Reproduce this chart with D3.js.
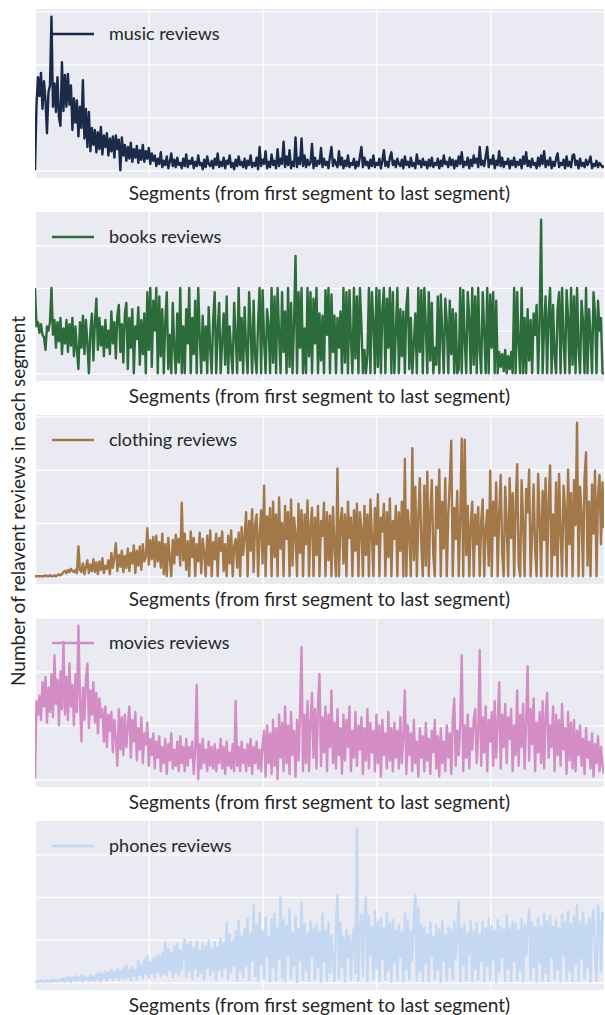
<!DOCTYPE html>
<html>
<head>
<meta charset="utf-8">
<script src="https://cdn.jsdelivr.net/npm/d3@7"></script>
<style>
  body { margin: 0; background: #ffffff; }
  svg text { font-family: Lato, "Open Sans", sans-serif; fill: #262626; }
</style>
</head>
<body>
<svg id="chart" width="605" height="1015"></svg>
<script>
// Review categories, one panel each (top to bottom)
const categories = ["music", "books", "clothing", "movies", "phones"];

// Number of relevant reviews per segment, first segment to last segment
const musicReviews = [
  0, 62, 88, 70, 92, 58, 84, 66, 35, 74, 80, 145, 60, 82, 55, 88, 50, 42, 102, 56,
  90, 60, 91, 62, 80, 38, 68, 45, 66, 32, 60, 40, 85, 30, 58, 22, 55, 18, 40, 24,
  38, 17, 36, 20, 41, 15, 33, 22, 35, 14, 30, 18, 32, 12, 33, 20, 29, 0, 31, 14,
  24, 9, 22, 11, 26, 8, 20, 12, 23, 7, 19, 10, 24, 8, 18, 11, 21, 6, 16, 9,
  14, 4, 11, 6, 17, 3, 9, 5, 13, 2, 8, 16, 4, 10, 3, 12, 5, 7, 2, 11,
  4, 15, 3, 9, 6, 12, 2, 8, 4, 14, 5, 7, 1, 10, 3, 13, 6, 4, 9, 2,
  11, 5, 16, 3, 8, 4, 12, 2, 9, 6, 14, 3, 7, 1, 10, 4, 13, 5, 8, 3,
  11, 2, 9, 5, 14, 3, 7, 4, 12, 1, 22, 4, 10, 6, 18, 2, 8, 3, 15, 5,
  9, 2, 20, 4, 11, 6, 27, 3, 13, 5, 19, 2, 8, 4, 31, 3, 12, 6, 30, 4,
  14, 3, 10, 5, 7, 25, 2, 12, 4, 9, 6, 21, 3, 11, 5, 8, 2, 13, 22, 4,
  10, 6, 3, 18, 5, 12, 2, 9, 4, 14, 3, 7, 5, 11, 2, 8, 4, 13, 22, 3,
  12, 5, 8, 2, 10, 4, 14, 3, 7, 5, 11, 2, 9, 19, 4, 8, 3, 12, 17, 5,
  9, 3, 11, 6, 4, 10, 2, 13, 5, 8, 3, 12, 4, 7, 2, 15, 6, 9, 3, 11,
  5, 8, 2, 10, 4, 12, 3, 7, 5, 11, 2, 9, 4, 14, 6, 8, 3, 12, 5, 10,
  2, 9, 4, 13, 6, 17, 3, 8, 5, 12, 2, 10, 4, 14, 7, 11, 3, 22, 5, 9,
  4, 13, 22, 3, 10, 6, 14, 2, 9, 5, 18, 4, 12, 3, 8, 6, 11, 2, 9, 5,
  12, 3, 8, 5, 10, 2, 13, 6, 17, 4, 9, 3, 11, 5, 7, 2, 12, 4, 14, 6,
  18, 3, 9, 5, 12, 2, 8, 4, 11, 16, 3, 7, 5, 10, 2, 13, 4, 8, 3, 14,
  15, 5, 9, 2, 11, 4, 7, 3, 10, 5, 8, 13, 2, 6, 4, 9, 3, 7, 5, 3,
  4
];
const booksReviews = [
  40, 22, 24, 19, 23, 18, 17, 11, 22, 20, 24, 40, 18, 25, 12, 24, 15, 26, 9, 21,
  14, 25, 10, 23, 13, 26, 8, 22, 11, 2, 24, 12, 27, 9, 25, 14, 0, 20, 28, 6,
  24, 35, 11, 26, 13, 22, 8, 25, 12, 20, 9, 29, 14, 24, 7, 27, 32, 10, 23, 5,
  28, 33, 2, 26, 12, 30, 0, 22, 16, 31, 4, 25, 9, 28, 0, 38, 11, 40, 3, 34,
  20, 40, 0, 36, 8, 30, 0, 24, 38, 2, 18, 0, 33, 12, 0, 28, 5, 40, 0, 22,
  0, 30, 14, 40, 0, 26, 9, 34, 0, 40, 18, 0, 27, 6, 22, 0, 31, 12, 0, 25,
  38, 0, 20, 33, 0, 15, 28, 4, 36, 0, 22, 10, 0, 33, 18, 0, 40, 6, 26, 0,
  31, 12, 0, 38, 20, 0, 34, 8, 0, 24, 40, 0, 39, 15, 0, 30, 22, 0, 40, 5,
  36, 0, 40, 18, 0, 38, 10, 29, 0, 40, 3, 33, 0, 24, 55, 0, 38, 12, 40, 0,
  21, 0, 40, 8, 38, 0, 35, 14, 40, 0, 28, 6, 27, 0, 39, 18, 40, 0, 37, 10,
  27, 0, 26, 12, 29, 0, 40, 5, 38, 0, 39, 16, 0, 40, 7, 36, 0, 40, 22, 0,
  11, 0, 8, 40, 0, 38, 24, 0, 40, 3, 39, 0, 30, 40, 0, 35, 12, 40, 0, 38,
  0, 20, 40, 0, 30, 8, 29, 0, 31, 40, 2, 26, 0, 14, 28, 0, 40, 10, 39, 0,
  40, 22, 0, 38, 6, 33, 0, 12, 4, 36, 0, 37, 18, 0, 35, 24, 0, 34, 9, 30,
  0, 28, 0, 2, 40, 0, 39, 15, 0, 38, 26, 0, 40, 4, 36, 0, 40, 11, 0, 38,
  20, 0, 40, 0, 37, 12, 38, 0, 34, 0, 10, 3, 9, 1, 11, 0, 8, 2, 10, 0,
  40, 0, 38, 14, 0, 40, 0, 26, 0, 30, 6, 25, 0, 28, 18, 32, 0, 24, 72, 0,
  22, 36, 0, 28, 40, 0, 32, 8, 0, 30, 38, 0, 40, 16, 0, 39, 26, 0, 40, 4,
  36, 0, 40, 12, 0, 34, 24, 0, 40, 0, 30, 18, 0, 38, 28, 0, 34, 20, 26, 0,
  0
];
const clothingReviews = [
  0, 0, 0, 0, 0, 0, 0, 1, 0, 0, 1, 0, 0, 1, 0, 1, 2, 1, 2, 4,
  5, 3, 6, 4, 7, 5, 4, 6, 3, 28, 6, 4, 12, 2, 9, 15, 3, 11, 5, 16,
  4, 13, 2, 14, 6, 17, 3, 10, 7, 15, 2, 22, 8, 18, 31, 5, 20, 9, 24, 4,
  19, 8, 26, 5, 22, 12, 29, 3, 24, 10, 28, 6, 30, 14, 18, 45, 11, 34, 16, 37,
  9, 38, 14, 32, 8, 40, 2, 30, 0, 36, 17, 0, 34, 12, 39, 20, 35, 10, 69, 15,
  40, 6, 33, 0, 42, 18, 36, 0, 30, 14, 41, 3, 35, 22, 0, 38, 10, 43, 0, 32,
  16, 40, 0, 36, 24, 42, 5, 30, 0, 38, 12, 43, 0, 28, 35, 8, 41, 0, 46, 20,
  38, 60, 0, 52, 24, 63, 4, 48, 58, 0, 40, 62, 12, 85, 0, 56, 30, 64, 0, 70,
  18, 58, 0, 74, 26, 50, 0, 66, 35, 60, 0, 72, 10, 55, 40, 0, 68, 22, 62, 0,
  58, 30, 71, 0, 48, 64, 0, 55, 20, 66, 0, 52, 38, 69, 0, 60, 15, 57, 0, 65,
  28, 0, 101, 0, 50, 64, 12, 58, 0, 70, 36, 55, 0, 62, 24, 68, 0, 60, 45, 0,
  66, 20, 58, 0, 72, 38, 0, 64, 30, 77, 0, 55, 42, 68, 0, 60, 18, 73, 0, 52,
  35, 66, 0, 60, 24, 70, 0, 110, 0, 62, 40, 0, 120, 15, 84, 0, 55, 92, 30, 0,
  85, 10, 98, 0, 60, 90, 20, 0, 84, 45, 100, 0, 70, 26, 92, 0, 58, 88, 127, 0,
  64, 35, 80, 0, 55, 129, 0, 128, 20, 66, 0, 48, 70, 0, 58, 30, 65, 0, 52, 72,
  0, 44, 62, 10, 99, 0, 70, 38, 88, 0, 60, 95, 22, 0, 84, 50, 0, 92, 36, 78,
  0, 66, 105, 12, 0, 90, 48, 0, 82, 60, 100, 0, 40, 86, 25, 0, 96, 55, 0, 80,
  34, 92, 0, 70, 104, 0, 58, 20, 88, 0, 96, 42, 0, 85, 64, 0, 100, 30, 78, 0,
  90, 48, 144, 0, 84, 60, 0, 92, 116, 10, 70, 0, 86, 40, 99, 0, 76, 95, 30, 88,
  45
];
const moviesReviews = [
  0, 29, 24, 31, 22, 36, 27, 38, 21, 34, 25, 39, 23, 46, 28, 37, 20, 40, 26, 51,
  24, 38, 22, 43, 27, 35, 20, 39, 25, 57, 30, 14, 34, 22, 37, 43, 19, 33, 24, 36,
  21, 32, 17, 30, 23, 26, 14, 27, 12, 24, 18, 25, 10, 22, 15, 5, 26, 11, 23, 9,
  24, 12, 20, 27, 8, 22, 14, 25, 7, 19, 11, 23, 6, 17, 13, 21, 5, 15, 9, 17,
  4, 14, 8, 16, 3, 12, 6, 15, 2, 13, 7, 17, 4, 11, 5, 14, 3, 16, 6, 12,
  3, 15, 5, 12, 8, 14, 2, 11, 35, 0, 13, 4, 15, 6, 11, 3, 14, 5, 12, 4,
  13, 3, 11, 6, 15, 4, 12, 2, 14, 5, 10, 4, 13, 3, 29, 5, 12, 3, 14, 6,
  11, 3, 13, 5, 15, 2, 12, 6, 14, 4, 11, 3, 13, 18, 1, 20, 6, 17, 2, 22,
  5, 19, 0, 24, 8, 21, 3, 27, 6, 20, 2, 25, 9, 18, 1, 22, 7, 25, 49, 3,
  24, 6, 29, 3, 22, 32, 8, 26, 4, 28, 39, 5, 23, 10, 27, 3, 24, 12, 33, 6,
  21, 4, 26, 9, 19, 2, 24, 7, 22, 12, 27, 3, 18, 8, 25, 5, 20, 11, 23, 2,
  19, 7, 26, 4, 21, 10, 18, 3, 24, 6, 20, 1, 22, 9, 17, 4, 25, 7, 19, 3,
  21, 8, 18, 4, 23, 6, 16, 33, 2, 20, 9, 17, 3, 22, 6, 14, 1, 19, 8, 16,
  3, 21, 7, 15, 2, 18, 10, 22, 4, 16, 1, 19, 6, 14, 3, 20, 8, 17, 2, 22,
  30, 5, 18, 9, 21, 46, 3, 20, 8, 24, 4, 19, 11, 22, 26, 6, 17, 48, 5, 23,
  10, 27, 3, 22, 14, 25, 5, 29, 8, 21, 36, 4, 24, 12, 28, 6, 23, 15, 26, 3,
  20, 9, 33, 5, 24, 12, 28, 4, 22, 42, 7, 26, 13, 30, 3, 21, 10, 25, 6, 29,
  4, 23, 32, 8, 20, 12, 27, 3, 24, 9, 22, 5, 28, 11, 19, 2, 25, 7, 21, 4,
  22, 3, 18, 9, 20, 5, 15, 2, 19, 8, 14, 4, 17, 1, 13, 6, 16, 3, 12, 5,
  2
];
const phonesReviews = [
  0, 0.1, 0.3, 0.1, 0.4, 0.2, 0.3, 0, 0.5, 0.2, 0.4, 0.1, 0.6, 0.3, 0.5, 0.2, 0.4, 0.7, 0.3, 0.9,
  0.2, 1.1, 0.4, 1.3, 0.1, 1.0, 0.5, 1.5, 0.3, 1.2, 0.6, 1.6, 0.2, 1.4, 0.7, 1.1, 0.3, 1.7, 0.5, 1.3,
  0.4, 1.8, 0.6, 2.2, 0.2, 2.0, 0.9, 2.6, 0.4, 2.3, 1.0, 2.9, 0.5, 2.5, 1.2, 3.1, 0.6, 2.7, 1.1, 3.3,
  0.8, 4.0, 1.3, 3.0, 0.5, 3.5, 1.5, 2.8, 0.7, 5.0, 1.8, 4.2, 0.9, 5.4, 2.0, 6.2, 1.0, 4.8, 2.2, 5.6,
  1.2, 6.0, 2.5, 6.3, 1.4, 7.0, 2.0, 9.2, 1.6, 7.8, 2.8, 6.9, 1.1, 8.4, 2.4, 9.0, 1.5, 7.5, 3.0, 8.6,
  10.0, 1.2, 8.8, 2.6, 9.5, 0.8, 8.0, 3.2, 9.6, 1.4, 7.4, 2.2, 9.0, 0.6, 8.5, 3.4, 9.8, 1.8, 7.9, 2.7,
  9.4, 0.5, 8.2, 2.9, 10.2, 1.3, 9.1, 3.5, 14.0, 0.7, 11.2, 2.4, 9.7, 4.0, 12.0, 0.4, 14.5, 2.6, 10.8, 1.2,
  12.5, 3.8, 15.0, 0.6, 11.4, 5.0, 18.0, 1.4, 13.6, 0.3, 16.4, 4.2, 12.0, 0.8, 15.2, 6.0, 10.6, 0.2, 14.8, 3.4,
  16.0, 0.5, 12.8, 5.6, 20.0, 1.0, 14.6, 0.2, 13.2, 6.4, 17.0, 0.8, 11.6, 3.9, 15.4, 0.1, 12.4, 5.2, 18.7, 0.6,
  13.8, 2.8, 11.5, 0.3, 14.2, 6.0, 12.6, 0.7, 13.4, 3.5, 11.8, 0.2, 16.0, 4.8, 12.2, 0.4, 14.0, 2.2, 11.0, 5.4,
  0.3, 13.2, 20.5, 0.8, 14.0, 3.6, 10.8, 0.2, 12.4, 5.8, 11.0, 0.6, 9.6, 12.6, 2.0, 36.0, 0.4, 12.8, 16.0, 1.5,
  14.5, 20.0, 0.3, 15.6, 6.4, 13.0, 0.9, 16.8, 3.2, 14.2, 0.2, 15.0, 5.5, 12.6, 0.6, 16.2, 2.8, 13.8, 0.1, 14.6,
  4.6, 12.2, 0.4, 13.5, 6.0, 11.8, 0.2, 16.0, 3.0, 14.4, 0.7, 12.0, 5.2, 15.2, 20.3, 0.5, 17.5, 2.6, 13.6, 0.3,
  12.8, 4.4, 11.2, 0.2, 14.0, 6.2, 10.6, 0.8, 13.4, 2.9, 12.4, 0.1, 14.5, 5.0, 11.0, 0.4, 13.0, 3.6, 12.2, 0.6,
  14.2, 5.6, 11.6, 19.0, 0.2, 12.8, 4.2, 13.6, 0.5, 11.4, 6.6, 14.5, 0.3, 12.0, 3.1, 13.8, 0.7, 11.2, 5.0, 14.0,
  0.2, 12.6, 3.8, 15.0, 0.6, 13.2, 5.4, 12.0, 0.1, 14.6, 2.4, 13.0, 6.0, 12.4, 0.4, 15.8, 3.3, 12.8, 0.3, 14.2,
  5.0, 13.6, 0.5, 12.2, 2.8, 14.8, 0.2, 13.4, 6.2, 12.6, 17.0, 0.6, 14.0, 3.5, 12.8, 0.1, 15.2, 4.6, 13.0, 0.4,
  16.0, 2.2, 14.4, 0.3, 15.6, 5.8, 13.0, 0.7, 14.6, 3.0, 12.6, 0.2, 15.8, 6.4, 14.0, 0.5, 16.6, 2.6, 13.8, 0.4,
  15.4, 4.2, 18.0, 0.3, 14.2, 5.6, 16.2, 0.8, 13.6, 3.4, 15.0, 0.2, 14.4, 17.0, 6.0, 0.4, 18.0, 14.0, 2.5, 16.4,
  15.0
];

// Gridline positions for each panel's value axis
const musicTicks = [0, 50, 100, 150];
const booksTicks = [0, 20, 40, 60, 80];
const clothingTicks = [0, 50, 100, 150];
const moviesTicks = [0, 20, 40, 60];
const phonesTicks = [0, 10, 20, 30, 40];
// Gridline positions along the segment axis
const segmentTicks = [0, 76, 152, 228, 304, 380];

const seriesList = [musicReviews, booksReviews, clothingReviews, moviesReviews, phonesReviews];
const tickList = [musicTicks, booksTicks, clothingTicks, moviesTicks, phonesTicks];
const palette = ["#1b2a48", "#2c6c3a", "#a37849", "#d48dc4", "#c4d8f1"];

const xLabel = "Segments (from first segment to last segment)";
const yLabel = "Number of relavent reviews in each segment";

// Layout
const plotLeft = 35, plotRight = 604;
const panelTops = [9, 212, 415, 618, 821];
const panelHeight = 169;

const svg = d3.select("#chart");

categories.forEach((cat, k) => {
  const values = seriesList[k];
  const top = panelTops[k], bottom = top + panelHeight;
  const lo = d3.min(values), hi = d3.max(values);
  const pad = (hi - lo) * 0.05;

  const x = d3.scaleLinear().domain([0, 380]).range([plotLeft, plotRight]);
  const y = d3.scaleLinear().domain([lo - pad, hi + pad]).range([bottom, top]);

  const g = svg.append("g").attr("class", "panel-" + cat);

  g.append("rect")
    .attr("x", plotLeft).attr("y", top)
    .attr("width", plotRight - plotLeft).attr("height", panelHeight)
    .attr("fill", "#eaeaf2");

  const clipId = "clip-" + cat;
  g.append("clipPath").attr("id", clipId)
    .append("rect")
    .attr("x", plotLeft).attr("y", top)
    .attr("width", plotRight - plotLeft).attr("height", panelHeight);

  // everything inside the plotting area is clipped to it
  const inner = g.append("g").attr("clip-path", `url(#${clipId})`);

  // white grid from the axes (labels hidden)
  const yAxis = d3.axisLeft(y).tickValues(tickList[k])
    .tickSize(-(plotRight - plotLeft)).tickFormat("");
  const yg = inner.append("g").attr("transform", `translate(${plotLeft},0)`).call(yAxis);
  const xAxis = d3.axisBottom(x).tickValues(segmentTicks)
    .tickSize(-panelHeight).tickFormat("");
  const xg = inner.append("g").attr("transform", `translate(0,${bottom})`).call(xAxis);
  [yg, xg].forEach(ax => {
    ax.select(".domain").remove();
    ax.selectAll(".tick line").attr("stroke", "#ffffff").attr("stroke-width", 1.3);
  });

  // series line
  const line = d3.line().x((d, i) => x(i)).y(d => y(d));
  inner.append("path")
    .datum(values)
    .attr("fill", "none")
    .attr("stroke", palette[k])
    .attr("stroke-width", 2.4)
    .attr("stroke-linejoin", "round")
    .attr("d", line);

  // legend
  const ly = top + 25;
  g.append("line")
    .attr("x1", 52).attr("x2", 94).attr("y1", ly).attr("y2", ly)
    .attr("stroke", palette[k]).attr("stroke-width", 2.4);
  g.append("text")
    .attr("x", 109).attr("y", ly + 6)
    .attr("font-size", 18)
    .text(cat + " reviews");

  // segment axis label
  g.append("text")
    .attr("x", (plotLeft + plotRight) / 2).attr("y", bottom + 22)
    .attr("text-anchor", "middle")
    .attr("font-size", 19)
    .text(xLabel);
});

svg.append("text")
  .attr("transform", "translate(25,501) rotate(-90)")
  .attr("text-anchor", "middle")
  .attr("font-size", 19)
  .text(yLabel);
</script>
</body>
</html>
